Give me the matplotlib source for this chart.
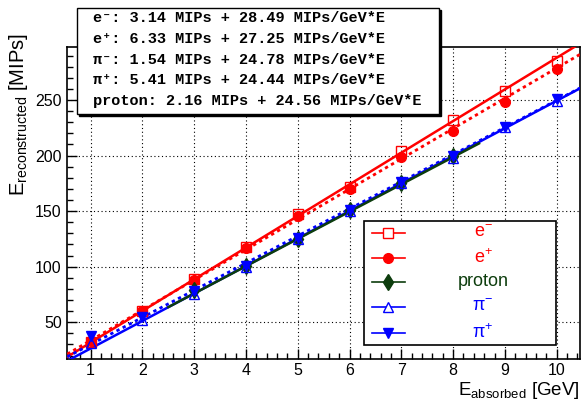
import matplotlib
matplotlib.use("Agg")
import matplotlib.pyplot as plt
from matplotlib.ticker import MultipleLocator
from matplotlib.patches import Rectangle
from matplotlib.lines import Line2D
import numpy as np

plt.rcParams["font.family"] = ["Liberation Sans", "DejaVu Sans"]
plt.rcParams["mathtext.fontset"] = "custom"
plt.rcParams["mathtext.rm"] = "Liberation Sans"
plt.rcParams["mathtext.it"] = "Liberation Sans:italic"

# measured points
energy = [1, 2, 3, 4, 5, 6, 7, 8, 9, 10]
e_minus = [32, 60, 89, 118, 147, 172, 204, 232, 258, 285]
e_plus = [33, 60, 88, 117, 146, 170, 199, 222, 248, 278]
pi_minus = [31, 52, 75, 100, 125, 150, 175, 198, 226, 249]
pi_plus = [38, 55, 78, 101, 126, 151, 176, 200, 226, 251]
proton_energy = [3, 4, 5, 6, 7, 8]
proton = [79, 101, 125, 151, 175, 200]

# linear fits (offset + slope * E)
fit_names = ["e⁻", "e⁺", "π⁻", "π⁺", "proton"]
fit_offsets = [3.14, 6.33, 1.54, 5.41, 2.16]
fit_slopes = [28.49, 27.25, 24.78, 24.44, 24.56]

RED = "#ff0000"
BLUE = "#0000ff"
GREEN = "#0d3d0d"

W, H = 584, 401


def fx(px):
    return px / W


def fy(py):
    return 1 - py / H


fig = plt.figure(figsize=(W / 100, H / 100), dpi=100)
ax = fig.add_axes([fx(67.3), fy(358.5), fx(580) - fx(67.3), fy(46.7) - fy(358.5)])

xmin, xmax = 0.55, 10.45
ax.set_xlim(xmin, xmax)
ax.set_ylim(17.3, 298)

full = np.array([xmin, xmax])
prot_range = np.array([2.5, 8.5])

ax.plot(full, fit_offsets[0] + fit_slopes[0] * full, color=RED, lw=1.8, zorder=3)
ax.plot(full, fit_offsets[1] + fit_slopes[1] * full, color=RED, lw=2,
        ls=(0, (1.2, 1.3)), zorder=3)
ax.plot(full, fit_offsets[2] + fit_slopes[2] * full, color=BLUE, lw=1.8, zorder=3)
ax.plot(full, fit_offsets[3] + fit_slopes[3] * full, color=BLUE, lw=2,
        ls=(0, (1.2, 1.3)), zorder=3)
ax.plot(prot_range, fit_offsets[4] + fit_slopes[4] * prot_range, color=GREEN,
        lw=1.8, zorder=3)

ax.plot(energy, e_minus, ls="none", marker="s", ms=7, mfc="none", mec=RED,
        mew=1, zorder=4)
ax.plot(energy, e_plus, ls="none", marker="o", ms=7, color=RED, zorder=4)
ax.plot(proton_energy, proton, ls="none", marker="d", ms=8.5, color=GREEN, zorder=4)
ax.plot(energy, pi_minus, ls="none", marker="^", ms=7, mfc="none", mec=BLUE,
        mew=1, zorder=4)
ax.plot(energy, pi_plus, ls="none", marker="v", ms=7, color=BLUE, zorder=4)

ax.xaxis.set_major_locator(MultipleLocator(1))
ax.xaxis.set_minor_locator(MultipleLocator(0.2))
ax.yaxis.set_major_locator(MultipleLocator(50))
ax.yaxis.set_minor_locator(MultipleLocator(10))
ax.tick_params(which="both", direction="in", labelsize=11.5)
ax.tick_params(which="major", length=7, width=1)
ax.tick_params(which="minor", length=4, width=1)
ax.tick_params(axis="x", pad=3.5)
ax.tick_params(axis="y", pad=4)
ax.grid(True, which="major", color="black", lw=0.8, ls=(0, (1, 2.4)))
for s in ax.spines.values():
    s.set_linewidth(1.2)

ax.set_xlabel(r"E$_{\mathrm{absorbed}}$ [GeV]", fontsize=13.5, ha="right",
              va="baseline")
ax.xaxis.set_label_coords(1.0, (358.5 - 395) / 312)
fig.text(fx(24), fy(33), r"E$_{\mathrm{reconstructed}}$ [MIPs]", fontsize=14.5,
         rotation=90, rotation_mode="anchor", ha="right", va="baseline")

# legend box
ax.add_patch(Rectangle((0.5787, 0.0439), 0.3745, 0.3974, transform=ax.transAxes,
                       facecolor="white", edgecolor="black", lw=1.2, zorder=10))
legend_rows = [
    (r"e$^{-}$", RED, dict(marker="s", mfc="white", mec=RED, mew=1, ms=7)),
    (r"e$^{+}$", RED, dict(marker="o", mfc=RED, mec=RED, ms=7)),
    ("proton", GREEN, dict(marker="d", mfc=GREEN, mec=GREEN, ms=8.5)),
    (r"π$^{-}$", BLUE, dict(marker="^", mfc="white", mec=BLUE, mew=1, ms=7)),
    (r"π$^{+}$", BLUE, dict(marker="v", mfc=BLUE, mec=BLUE, ms=7)),
]
row_y = [0.403, 0.323, 0.246, 0.166, 0.082]
for (label, col, mk), y in zip(legend_rows, row_y):
    ax.add_line(Line2D([0.595, 0.626, 0.659], [y, y, y], transform=ax.transAxes,
                       color=col, lw=1.2, markevery=[1], zorder=11, **mk))
    ax.text(0.811, y, label, transform=ax.transAxes, color=col, fontsize=13,
            ha="center", va="center", zorder=11)

# fit results box
fig.add_artist(Rectangle((fx(79), fy(116)), fx(439) - fx(77), fy(8) - fy(114),
                         transform=fig.transFigure, facecolor="black",
                         edgecolor="black", zorder=5))
fig.add_artist(Rectangle((fx(77), fy(114)), fx(439) - fx(77), fy(8) - fy(114),
                         transform=fig.transFigure, facecolor="white",
                         edgecolor="black", lw=1, zorder=6))
baselines = [22.5, 43, 63.5, 84, 104.5]
for name, off, slope, by in zip(fit_names, fit_offsets, fit_slopes, baselines):
    line = f"{name}: {off:.2f} MIPs + {slope:.2f} MIPs/GeV*E"
    fig.text(fx(93), fy(by), line, family=["Liberation Mono", "DejaVu Sans Mono"],
             weight="bold", fontsize=11, va="baseline", zorder=7)

fig.savefig("out.png", dpi=100)
